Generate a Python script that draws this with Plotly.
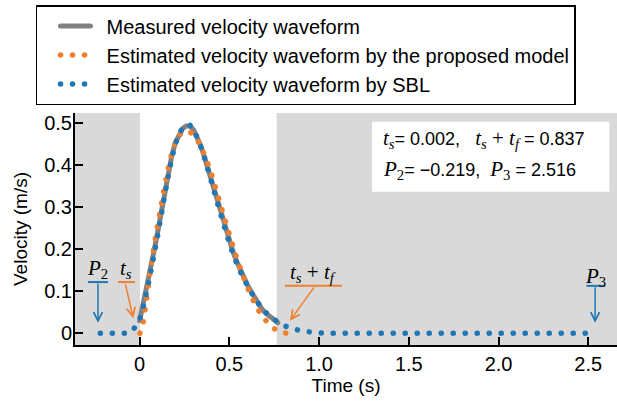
import plotly.graph_objects as go

# ---------------- data ----------------
t_meas = [0.00, 0.02, 0.04, 0.06, 0.08, 0.10, 0.12, 0.14, 0.16, 0.18,
          0.20, 0.22, 0.24, 0.26, 0.28, 0.30, 0.32, 0.34, 0.36, 0.38,
          0.40, 0.42, 0.44, 0.46, 0.48, 0.50, 0.52, 0.54, 0.56, 0.58,
          0.60, 0.62, 0.64, 0.66, 0.68, 0.70, 0.72, 0.74, 0.76, 0.77]
v_meas = [0.030, 0.068, 0.108, 0.150, 0.195, 0.240, 0.290, 0.340, 0.385, 0.425,
          0.455, 0.475, 0.488, 0.494, 0.494, 0.485, 0.468, 0.448, 0.422, 0.393,
          0.364, 0.336, 0.308, 0.279, 0.250, 0.222, 0.195, 0.172, 0.151, 0.133,
          0.116, 0.100, 0.085, 0.071, 0.059, 0.049, 0.041, 0.034, 0.028, 0.025]

t_prop = [0.002, 0.02, 0.04, 0.06, 0.08, 0.10, 0.12, 0.14, 0.16, 0.18,
          0.20, 0.22, 0.24, 0.26, 0.28, 0.30, 0.32, 0.34, 0.36, 0.38,
          0.40, 0.42, 0.44, 0.46, 0.48, 0.50, 0.52, 0.54, 0.56, 0.58,
          0.60, 0.62, 0.64, 0.66, 0.68, 0.70, 0.72, 0.74, 0.76, 0.78,
          0.80, 0.82, 0.837]
v_prop = [0.000, 0.025, 0.085, 0.150, 0.205, 0.258, 0.305, 0.352, 0.395, 0.430,
          0.455, 0.472, 0.480, 0.482, 0.480, 0.473, 0.462, 0.446, 0.427, 0.405,
          0.380, 0.352, 0.323, 0.293, 0.264, 0.236, 0.208, 0.181, 0.156, 0.132,
          0.110, 0.090, 0.072, 0.056, 0.043, 0.032, 0.022, 0.014, 0.008, 0.004,
          0.001, 0.000, 0.000]

t_sbl = [-0.219, -0.06, -0.03, 0.00, 0.02, 0.04, 0.06, 0.08, 0.10, 0.12,
         0.14, 0.16, 0.18, 0.20, 0.22, 0.24, 0.26, 0.28, 0.30, 0.32,
         0.34, 0.36, 0.38, 0.40, 0.42, 0.44, 0.46, 0.48, 0.50, 0.52,
         0.54, 0.56, 0.58, 0.60, 0.62, 0.64, 0.66, 0.68, 0.70, 0.72,
         0.74, 0.76, 0.78, 0.80, 0.85, 0.90, 0.95, 1.00, 1.05, 2.516]
v_sbl = [0.000, 0.000, 0.012, 0.032, 0.062, 0.100, 0.142, 0.186, 0.232, 0.280,
         0.330, 0.376, 0.418, 0.452, 0.475, 0.490, 0.497, 0.496, 0.486, 0.468,
         0.446, 0.420, 0.391, 0.361, 0.331, 0.301, 0.271, 0.243, 0.215, 0.190,
         0.168, 0.148, 0.130, 0.114, 0.099, 0.085, 0.072, 0.061, 0.051, 0.043,
         0.036, 0.030, 0.024, 0.019, 0.011, 0.006, 0.003, 0.001, 0.000, 0.000]

series_names = ["Measured velocity waveform",
                "Estimated velocity waveform by the proposed model",
                "Estimated velocity waveform by SBL"]

x_tickvals = [0, 0.5, 1.0, 1.5, 2.0, 2.5]
x_ticktext = ["0", "0.5", "1.0", "1.5", "2.0", "2.5"]
y_tickvals = [0, 0.1, 0.2, 0.3, 0.4, 0.5]
y_ticktext = ["0", "0.1", "0.2", "0.3", "0.4", "0.5"]

t_s = 0.002
t_s_tf = 0.837
P2 = -0.219
P3 = 2.516
meas_end = 0.764

# ---------------- styling ----------------
SANS = "Liberation Sans, Arial, Helvetica, sans-serif"
SERIF = "Liberation Serif, Times New Roman, serif"
ORANGE = "#f07f2e"
BLUE = "#1f77b4"
GRAY_BG = "#d9d9d9"
DOT = "0.1px,11.9px"
NB = "\u00a0"

XR = [-0.36, 2.66]
YR = [-0.028, 0.525]

fig = go.Figure()
fig.add_trace(go.Scatter(x=t_meas, y=v_meas, mode="lines", name=NB + NB + series_names[0],
                         line=dict(color="rgba(115,115,115,0.9)", width=5)))
fig.add_trace(go.Scatter(x=t_prop, y=v_prop, mode="lines", name=NB + NB + series_names[1],
                         line=dict(color=ORANGE, width=5.5, dash=DOT, simplify=False)))
fig.add_trace(go.Scatter(x=t_sbl, y=v_sbl, mode="lines", name=NB + NB + series_names[2],
                         line=dict(color=BLUE, width=5.5, dash=DOT, simplify=False)))

shapes = [
    dict(type="rect", xref="x", yref="paper", x0=XR[0], x1=t_s, y0=0, y1=1,
         fillcolor=GRAY_BG, line=dict(width=0), layer="below"),
    dict(type="rect", xref="x", yref="paper", x0=meas_end, x1=XR[1], y0=0, y1=1,
         fillcolor=GRAY_BG, line=dict(width=0), layer="below"),
    dict(type="rect", xref="x", yref="y", x0=1.295, x1=2.617, y0=0.337, y1=0.504,
         fillcolor="white", line=dict(width=0), layer="below"),
    # label bars
    dict(type="line", xref="x", yref="y", x0=-0.288, x1=-0.176, y0=0.122, y1=0.122,
         line=dict(color=BLUE, width=2)),
    dict(type="line", xref="x", yref="y", x0=-0.12, x1=-0.026, y0=0.122, y1=0.122,
         line=dict(color=ORANGE, width=2)),
    dict(type="line", xref="x", yref="y", x0=0.81, x1=1.127, y0=0.113, y1=0.113,
         line=dict(color=ORANGE, width=2)),
    dict(type="line", xref="x", yref="y", x0=2.49, x1=2.594, y0=0.113, y1=0.113,
         line=dict(color=BLUE, width=2)),
]


def math_ts():
    return "<i>t</i><sub><i>s</i></sub>"


def math_tf():
    return "<i>t</i><sub><i>f</i></sub>"


def serif(s):
    return ('<span style="font-family:Liberation Serif;font-size:21px">' + s + "</span>")


annotations = []


def arrow(x, y, ax, ay, color):
    annotations.append(dict(x=x, y=y, ax=ax, ay=ay, xref="x", yref="y", axref="x", ayref="y",
                            text="", showarrow=True, arrowhead=5, arrowsize=1.15,
                            arrowwidth=1.5, arrowcolor=color, standoff=0, startstandoff=0))


arrow(P2 - 0.013, 0.025, P2 - 0.013, 0.122, BLUE)
arrow(-0.035, 0.036, -0.081, 0.12, ORANGE)
arrow(0.838, 0.03, 0.978, 0.113, ORANGE)
arrow(P3 + 0.022, 0.025, P3 + 0.022, 0.113, BLUE)


def label(x, y, text):
    annotations.append(dict(x=x, y=y, xref="x", yref="y", text=text, showarrow=False,
                            font=dict(family=SERIF, size=21, color="black"),
                            xanchor="center", yanchor="middle"))


label(P2 - 0.013, 0.153, "<i>P</i><sub>2</sub>")
label(-0.076, 0.153, math_ts())
label(0.968, 0.143, math_ts() + " + " + math_tf())
label(P3 + 0.022, 0.135, "<i>P</i><sub>3</sub>")

line1 = (serif(math_ts()) + "= 0.002," + NB + NB + NB
         + serif(math_ts() + NB + "+" + NB + math_tf()) + " = 0.837")
line2 = (serif("<i>P</i><sub>2</sub>") + "= \u22120.219," + NB + NB
         + serif("<i>P</i><sub>3</sub>") + " = 2.516")
for yy, txt in [(0.462, line1), (0.389, line2)]:
    annotations.append(dict(x=1.345, y=yy, xref="x", yref="y", text=txt, showarrow=False,
                            font=dict(family=SANS, size=18, color="black"),
                            xanchor="left", yanchor="middle"))

fig.update_layout(
    width=617, height=401,
    margin=dict(l=75, r=0, t=113, b=56),
    paper_bgcolor="white", plot_bgcolor="white",
    font=dict(family=SANS, size=20, color="black"),
    shapes=shapes, annotations=annotations,
    legend=dict(x=-0.072, y=1.465, xanchor="left", yanchor="top",
                bordercolor="black", borderwidth=1.5, bgcolor="white",
                font=dict(family=SANS, size=20), itemwidth=30, indentation=18,
                tracegroupgap=0),
    xaxis=dict(range=XR, tickvals=x_tickvals, ticktext=x_ticktext,
               showline=True, linecolor="black", linewidth=2,
               ticks="inside", ticklen=8, tickwidth=2, tickcolor="black",
               showgrid=False, zeroline=False, ticklabelstandoff=0,
               title=dict(text="Time (s)", standoff=4, font=dict(size=19))),
    yaxis=dict(range=YR, tickvals=y_tickvals, ticktext=y_ticktext,
               showline=True, linecolor="black", linewidth=2,
               ticks="inside", ticklen=8, tickwidth=2, tickcolor="black",
               showgrid=False, zeroline=False, ticklabelstandoff=-3,
               title=dict(text="Velocity (m/s)", standoff=12, font=dict(size=19))),
)

post = ("document.body.style.margin='0';"
        "var s=document.createElement('style');"
        "s.textContent='body{margin:0}.scatterlayer .js-line, .legend .js-line{stroke-linecap:round !important;}';"
        "document.head.appendChild(s);")
fig.write_html("out.html", post_script=post, config={"displayModeBar": False})
